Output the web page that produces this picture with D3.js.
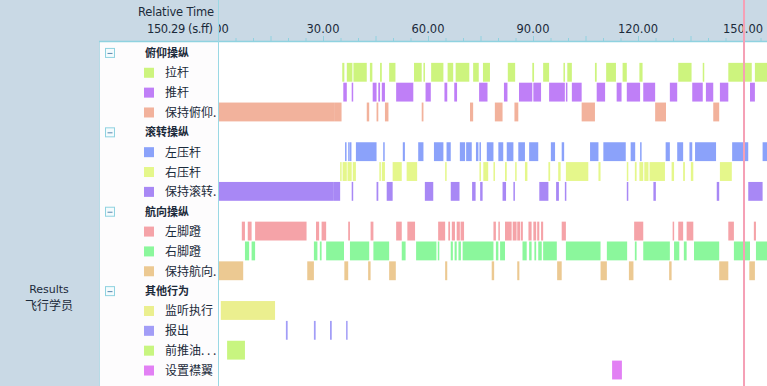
<!DOCTYPE html>
<html>
<head>
<meta charset="utf-8">
<script src="https://cdn.jsdelivr.net/npm/d3@7"></script>
<style>
  html, body { margin: 0; padding: 0; background: #fff; }
  svg { display: block; font-family: "Noto Sans CJK SC", "DejaVu Sans", sans-serif; }
</style>
</head>
<body>
<div id="chart"></div>
<script>
// group headers and behaviour rows, top to bottom
const groups = ["俯仰操纵", "滚转操纵", "航向操纵", "其他行为"];
const rowLabels = [
  ["拉杆", "推杆", "保持俯仰."],
  ["左压杆", "右压杆", "保持滚转."],
  ["左脚蹬", "右脚蹬", "保持航向."],
  ["监听执行", "报出", "前推油. . .", "设置襟翼"]
];
const rowColors = [
  ["#cdf47e", "#bf7ff7", "#f2b29c"],
  ["#8ba2fa", "#e5f78b", "#a888f5"],
  ["#f5a3a8", "#8bf79c", "#ecc992"],
  ["#ebef8f", "#a29df7", "#c8f580", "#e280f4"]
];

// time axis
const xTicks = [0, 30, 60, 90, 120, 150];
const currentTime = 150.29;

// segments in seconds [start, end]
const pitchPull = [[35.5,36.1],[36.8,38.4],[38.7,42.5],[43.4,44.1],[46.3,46.8],[48.9,50.7],[56.0,58.2],[58.7,58.9],
  [60.9,64.4],[65.6,67.2],[67.9,71.8],[72.9,74.5],[75.7,77.7],[82.8,84.9],[89.8,90.3],[92.9,94.6],[98.7,99.1],
  [99.8,101.1],[107.7,108.2],[110.9,113.7],[115.6,116.8],[120.4,121.3],[131.5,135.3],[138.5,138.9],[145.8,152.5],[153.4,156.9]];
const pitchPush = [[35.8,36.8],[38.2,38.5],[44.2,45.3],[45.8,46.3],[46.8,47.7],[50.9,55.8],[59.3,60.8],[64.7,65.5],
  [67.5,68.3],[74.6,77.0],[81.7,82.7],[86.0,89.8],[90.1,92.3],[94.6,99.1],[99.4,99.8],[101.1,103.9],[108.2,110.6],
  [113.9,115.3],[116.8,120.6],[121.5,124.9],[129.1,131.2],[135.5,138.5],[139.4,141.5],[143.4,145.8],[152.0,153.4]];
const pitchHold = [[0,32.0],[32.0,33.4],[33.4,35.3],[42.5,43.2],[45.3,45.8],[47.7,48.7],[58.2,58.7],[72.0,72.9],
  [79.1,81.3],[84.7,85.8],[103.9,107.7],[124.9,128.0],[141.5,143.2]];
const rollLeft = [[36.3,36.6],[37.2,37.5],[37.7,38.0],[39.4,45.3],[47.2,47.5],[52.8,53.4],[57.2,58.7],[61.7,64.4],
  [65.3,66.5],[69.1,70.6],[70.9,72.5],[73.7,74.4],[74.7,75.1],[76.8,78.7],[80.1,81.5],[82.5,84.4],[85.8,87.7],
  [88.9,91.5],[95.1,96.3],[98.2,98.9],[106.3,108.7],[110.1,116.5],[117.9,119.2],[120.6,120.9],[127.9,129.1],
  [131.2,132.9],[134.7,135.5],[136.3,142.3],[146.9,151.5],[155.6,156.9]];
const rollRight = [[34.9,35.3],[35.6,36.8],[37.0,38.2],[38.5,39.4],[46.1,46.5],[46.8,47.7],[49.9,52.5],[53.9,56.9],
  [64.9,65.1],[74.7,74.9],[75.8,77.2],[78.7,79.1],[82.0,82.5],[84.9,85.3],[87.7,88.4],[94.4,94.9],[97.2,97.9],
  [99.4,105.8],[108.7,109.3],[116.8,117.2],[119.1,119.6],[120.4,121.5],[121.8,123.0],[123.3,127.7],[129.6,130.3],
  [132.9,133.4],[135.1,135.8],[143.4,146.8]];
const rollHold = [[0,33.1],[33.1,34.9],[38.2,38.5],[45.3,45.8],[48.2,49.9],[59.1,61.5],[66.5,69.0],[72.6,73.6],
  [74.9,75.6],[81.3,82.3],[84.4,84.8],[91.8,94.4],[96.6,97.4],[99.1,99.4],[116.8,117.0],[124.4,125.1],
  [142.5,143.2],[151.5,155.6]];
const yawLeft = [[6.8,7.7],[8.5,9.6],[10.6,25.3],[28.0,28.9],[29.6,30.9],[37.2,37.7],[43.6,44.4],[50.9,52.5],
  [54.1,56.3],[62.9,64.9],[65.8,66.3],[66.8,67.7],[68.2,69.1],[69.3,70.3],[78.7,79.4],[80.1,80.4],[82.0,83.9],
  [84.2,85.3],[85.5,86.3],[86.5,87.1],[88.7,89.6],[90.1,90.9],[91.2,91.8],[92.3,92.9],[98.2,99.4],[118.9,121.5],
  [129.9,130.3],[131.5,132.9],[133.9,135.8],[145.8,147.4],[153.1,153.7]];
const yawRight = [[7.7,8.9],[9.6,10.6],[27.4,28.4],[29.1,29.6],[30.9,36.0],[37.7,43.2],[44.4,48.9],[52.5,53.6],
  [56.6,62.4],[62.8,63.2],[66.5,67.1],[67.6,68.2],[68.7,69.4],[69.9,78.7],[79.4,80.1],[80.6,82.0],[87.0,88.2],
  [88.9,89.6],[90.4,90.9],[91.5,92.5],[92.9,96.8],[99.4,109.3],[111.1,116.9],[119.1,119.6],[121.5,129.1],
  [130.3,131.8],[133.1,133.9],[136.0,143.2],[147.4,152.0],[153.7,156.9]];
const yawHold = [[0,7.2],[25.5,27.4],[36.1,37.2],[42.9,43.6],[48.9,50.8],[64.9,65.5],[78.2,78.9],[85.5,86.1],
  [96.9,98.2],[109.3,111.1],[117.4,118.7],[128.9,129.6],[143.2,145.8],[151.8,153.4]];
const listenExec = [[0.8,16.3]];
const reportOut = [[19.4,19.9],[27.4,27.9],[32.0,32.5],[36.6,37.0]];
const throttleUp = [[2.6,7.7]];
const setFlaps = [[112.6,115.4]];

const rowSegments = [
  [pitchPull, pitchPush, pitchHold],
  [rollLeft, rollRight, rollHold],
  [yawLeft, yawRight, yawHold],
  [listenExec, reportOut, throttleUp, setFlaps]
];

const W = 767, H = 386;
const headerH = 42, leftW = 99, plotX = 218;
const ink = "#1b2a3a";

// flatten rows: headers + items
const rows = [];
groups.forEach((g, gi) => {
  rows.push({ type: "group", label: g });
  rowLabels[gi].forEach((l, li) => {
    rows.push({ type: "item", label: l, color: rowColors[gi][li], segs: rowSegments[gi][li] });
  });
});

const x = d3.scaleLinear().domain([0, 150]).range([plotX, 743]);
const y = d3.scaleBand().domain(d3.range(rows.length)).range([43, 43 + rows.length * 19.85]).padding(0);

const svg = d3.select("#chart").append("svg").attr("width", W).attr("height", H);

// backgrounds
svg.append("rect").attr("width", W).attr("height", H).attr("fill", "#ffffff");
svg.append("rect").attr("width", W).attr("height", headerH).attr("fill", "#c9d9e5");
svg.append("rect").attr("y", headerH).attr("width", leftW).attr("height", H - headerH).attr("fill", "#c9d9e5");
svg.append("rect").attr("x", leftW).attr("y", headerH).attr("width", plotX - leftW).attr("height", H - headerH).attr("fill", "#fdfcfd");
svg.append("line").attr("x1", leftW + 0.5).attr("x2", leftW + 0.5).attr("y1", headerH).attr("y2", H)
  .attr("stroke", "#b7dbe6");

// bars
const plot = svg.append("g");
rows.forEach((r, i) => {
  if (r.type !== "item") return;
  plot.selectAll(null)
    .data(r.segs)
    .enter()
    .append("rect")
    .attr("x", d => x(d[0]))
    .attr("y", y(i))
    .attr("width", d => Math.max(1.5, x(d[1]) - x(d[0])))
    .attr("height", y.bandwidth() - 1)
    .attr("fill", r.color);
});

// axis line and ticks
svg.append("line").attr("x1", leftW).attr("x2", W).attr("y1", headerH - 0.5).attr("y2", headerH - 0.5)
  .attr("stroke", "#8fd2e0").attr("stroke-width", 1.5);
const minor = d3.range(0, 160, 5);
svg.selectAll(".tk").data(minor).enter().append("line")
  .attr("x1", d => x(d) + 0.5).attr("x2", d => x(d) + 0.5)
  .attr("y1", d => d % 15 === 0 ? 36 : 38).attr("y2", headerH)
  .attr("stroke", "#8fd2e0");

// tick labels; the first one is cut by the plot edge, as in the original
svg.append("clipPath").attr("id", "axclip").append("rect")
  .attr("x", plotX + 1).attr("y", 0).attr("width", W).attr("height", headerH);
svg.append("g").attr("clip-path", "url(#axclip)")
  .selectAll("text").data(xTicks).enter().append("text")
  .attr("x", d => d === 0 ? x(d) - 2 : x(d)).attr("y", 33)
  .attr("text-anchor", "middle")
  .attr("font-size", 11.5).attr("fill", ink)
  .attr("font-family", "DejaVu Sans, sans-serif")
  .text(d => d3.format(".2f")(d));

svg.append("text").attr("x", 138).attr("y", 16).attr("font-size", 11.5).attr("fill", ink)
  .attr("font-family", "DejaVu Sans, sans-serif").attr("textLength", 76).text("Relative Time");
svg.append("text").attr("x", 147).attr("y", 33).attr("font-size", 11.5).attr("fill", ink)
  .attr("font-family", "DejaVu Sans, sans-serif").attr("textLength", 66).text("150.29 (s.ff)");

// vertical lines
svg.append("line").attr("x1", plotX + 0.5).attr("x2", plotX + 0.5).attr("y1", 0).attr("y2", H)
  .attr("stroke", "#9ad8e4");
svg.append("line").attr("x1", x(currentTime)).attr("x2", x(currentTime)).attr("y1", 0).attr("y2", H)
  .attr("stroke", "#f5a0b6").attr("stroke-width", 2);

// legend
svg.append("clipPath").attr("id", "legclip").append("rect")
  .attr("x", leftW).attr("y", headerH).attr("width", plotX - leftW - 1).attr("height", H);
const legend = svg.append("g").attr("clip-path", "url(#legclip)");
rows.forEach((r, i) => {
  const cy = y(i) + y.bandwidth() / 2;
  if (r.type === "group") {
    legend.append("rect").attr("x", 105.5).attr("y", cy - 4.5).attr("width", 9).attr("height", 9)
      .attr("fill", "#f4fbfd").attr("stroke", "#8fd2e0");
    legend.append("line").attr("x1", 107.5).attr("x2", 112.5).attr("y1", cy + 0.5).attr("y2", cy + 0.5)
      .attr("stroke", "#5a8ab0");
    legend.append("text").attr("x", 145).attr("y", cy + 4).attr("font-size", 11).attr("font-weight", "bold")
      .attr("fill", ink).text(r.label);
  } else {
    legend.append("rect").attr("x", 144).attr("y", cy - 5).attr("width", 10).attr("height", 10)
      .attr("fill", r.color);
    legend.append("text").attr("x", 165).attr("y", cy + 4.5).attr("font-size", 12)
      .attr("fill", ink).text(r.label);
  }
});

// left column
svg.append("text").attr("x", 49).attr("y", 293).attr("text-anchor", "middle").attr("font-size", 11)
  .attr("fill", ink).attr("font-family", "DejaVu Sans, sans-serif").text("Results");
svg.append("text").attr("x", 49).attr("y", 310).attr("text-anchor", "middle").attr("font-size", 12)
  .attr("fill", ink).text("飞行学员");
</script>
</body>
</html>
